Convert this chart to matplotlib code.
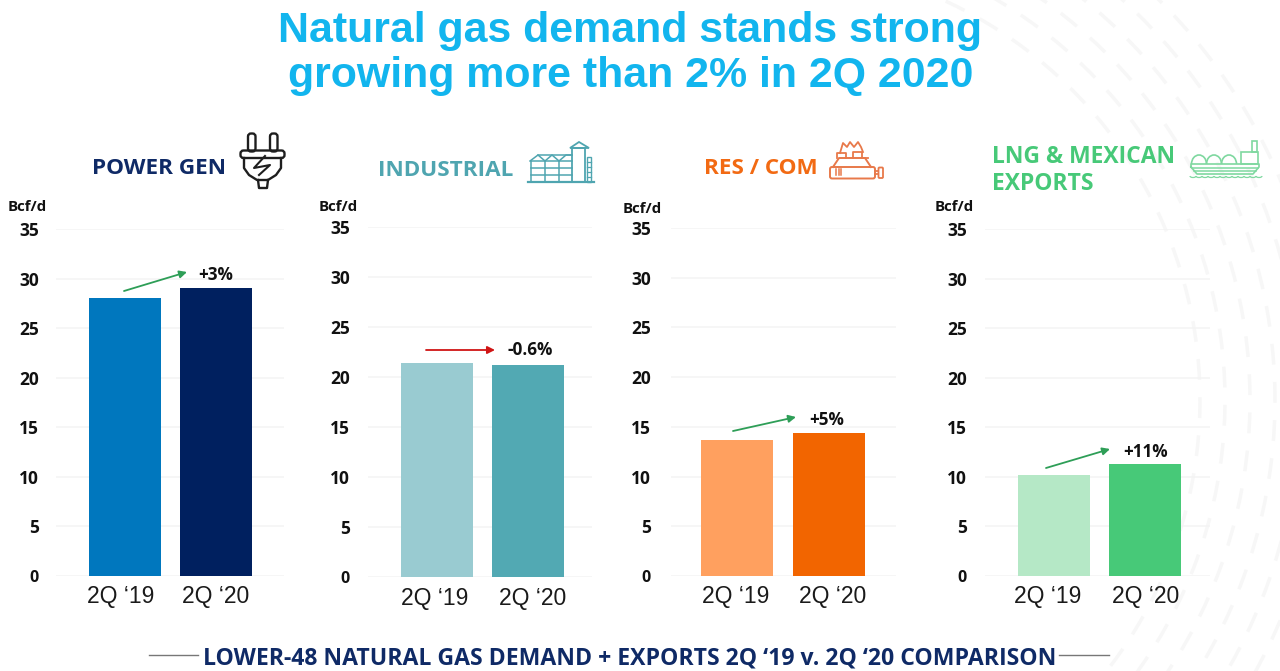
import matplotlib
matplotlib.use("Agg")
import matplotlib.pyplot as plt
from matplotlib.patches import Arc, Rectangle, FancyBboxPatch, Polygon

W, H = 1280, 671
HEAD = "Open Sans"
categories = ["2Q \u201819", "2Q \u201820"]
yticks = [0, 5, 10, 15, 20, 25, 30, 35]
power_gen = [28.05, 29.0]
industrial = [21.4, 21.2]
res_com = [13.7, 14.4]
lng_exports = [10.2, 11.3]
series = [power_gen, industrial, res_com, lng_exports]
bar_colors = [["#0077BE", "#00205F"], ["#99CBD1", "#52A9B3"], ["#FFA05F", "#F26500"], ["#B5E8C6", "#47C978"]]
change_labels = ["+3%", "-0.6%", "+5%", "+11%"]
# axes pixel box: left, right, y at 35, y at 0
boxes = [(56, 284, 229, 576), (368, 592, 227, 577), (671, 896, 228, 576), (985, 1210, 229, 576)]
centers = [(125, 216), (437, 528), (737, 829), (1054, 1145)]
label_y = [597, 598, 597, 597]
label_dx = [(-4, 0), (-2, 5), (-1, 4), (-6, 1)]
tick_x = [39, 350, 651, 967]
unit_xy = [(8, 207), (319, 207), (623, 209), (935, 207)]
arrows = [((124, 291), (187, 272), "#2E9E57"), ((426, 350), (495, 350), "#D01515"),
          ((733, 431), (796, 417), "#2E9E57"), ((1046, 468), (1110, 449), "#2E9E57")]
change_xy = [(216, 275), (530, 350), (827, 420), (1146, 452)]

fig = plt.figure(figsize=(W / 100, H / 100), dpi=100, facecolor="white")

# faint background swirl on the right
bg = fig.add_axes([0, 0, 1, 1], zorder=0)
bg.set_xlim(0, W)
bg.set_ylim(H, 0)
bg.axis("off")
for rad in (440, 465, 490, 515, 540, 565):
    bg.add_patch(Arc((760, 400), 2 * rad, 2 * rad, theta1=-70, theta2=50, color="#F7F7F7", lw=2.5, ls=(0, (6, 5))))

ov = fig.add_axes([0, 0, 1, 1], zorder=5)
ov.set_xlim(0, W)
ov.set_ylim(H, 0)
ov.axis("off")
ov.patch.set_alpha(0)

for i, vals in enumerate(series):
    l, r, yt, y0 = boxes[i]
    c0, c1 = centers[i]
    ax = fig.add_axes([l / W, 1 - y0 / H, (r - l) / W, (y0 - yt) / H], zorder=1)
    step = c1 - c0
    ax.set_xlim((l - c0) / step, (r - c0) / step)
    ax.set_ylim(0, 35)
    ax.bar([0, 1], vals, width=0.79, color=bar_colors[i], zorder=3)
    ax.set_yticks(yticks)
    ax.set_yticklabels([])
    ax.set_xticks([])
    ax.grid(axis="y", color="#F4F4F4", lw=1.1, zorder=0)
    ax.tick_params(length=0)
    for s in ax.spines.values():
        s.set_visible(False)
    ax.patch.set_alpha(0)
    for t in yticks:
        py = y0 - (y0 - yt) * t / 35 + 2
        ov.text(tick_x[i], py, str(t), ha="right", va="center",
                family=HEAD, weight="bold", fontsize=12.5 if t else 11.5, color="#111111")
    ov.text(unit_xy[i][0], unit_xy[i][1], "Bcf/d", ha="left", va="center", family=HEAD, weight="bold",
            fontsize=10.8, color="#111111")
    for j, lab in enumerate(categories):
        ov.text(centers[i][j] + label_dx[i][j], label_y[i], lab, ha="center", va="center",
                family="Liberation Sans", fontsize=16.5, color="#1A1A1A")
    s, e, col = arrows[i]
    ov.annotate("", xy=e, xytext=s, arrowprops=dict(arrowstyle="-|>", color=col, lw=1.3, mutation_scale=11,
                                                    shrinkA=0, shrinkB=0))
    ov.text(change_xy[i][0], change_xy[i][1], change_labels[i], ha="center", va="center", family=HEAD,
            weight="bold", fontsize=12.3, color="#111111")

# title
for line, y in [("Natural gas demand stands strong", 31), ("growing more than 2% in 2Q 2020", 76)]:
    ov.text(630.5, y, line, ha="center", va="center", family="Liberation Sans", weight="bold",
            fontsize=30.9, color="#12B5EE")

# panel headings
ov.text(159.5, 168, "POWER GEN", ha="center", va="center", family=HEAD, weight="bold", fontsize=16.2, color="#0F2A66")
ov.text(446, 171, "INDUSTRIAL", ha="center", va="center", family=HEAD, weight="bold", fontsize=16.2, color="#4FA5B0")
ov.text(760.5, 168, "RES / COM", ha="center", va="center", family=HEAD, weight="bold", fontsize=16.2, color="#F26A13")
ov.text(992, 157, "LNG & MEXICAN", ha="left", va="center", family=HEAD, weight="bold", fontsize=16.5, color="#47C978")
ov.text(992, 184, "EXPORTS", ha="left", va="center", family=HEAD, weight="bold", fontsize=16.5, color="#47C978")

# footer
ov.text(629.5, 658, "LOWER-48 NATURAL GAS DEMAND + EXPORTS 2Q \u201819 v. 2Q \u201820 COMPARISON", ha="center", va="center",
        family=HEAD, weight="bold", fontsize=16.6, color="#0F2A66")
ov.plot([149, 198], [655, 655], color="#777777", lw=1)
ov.plot([1059, 1109], [655, 655], color="#777777", lw=1)

# plug icon
k = "#1E1E1E"
for x in (249.5, 271.5):
    ov.add_patch(FancyBboxPatch((x, 135), 4.5, 15, boxstyle="round,pad=1.5,rounding_size=3", fc="none", ec=k, lw=1.7))
ov.add_patch(FancyBboxPatch((241, 151), 43, 6.5, boxstyle="round,pad=0.5,rounding_size=3", fc="none", ec=k, lw=1.7))
ov.plot([244, 244, 249, 257, 268, 276, 281, 281], [158, 168, 175, 180, 180, 175, 168, 158], color=k, lw=1.7)
ov.plot([258, 259, 267, 268], [180, 188, 188, 180], color=k, lw=1.7)
ov.plot([265, 254, 270, 259], [156, 168, 165, 175], color=k, lw=1.5)

# silo icon
t = "#4FA5B0"
ov.plot([528, 594], [182, 182], color=t, lw=1.6)
for y in (161, 168, 175):
    ov.plot([531, 572], [y, y], color=t, lw=1.1)
for x in (531, 545, 559):
    ov.plot([x, x], [161, 182], color=t, lw=1.1)
ov.plot([530, 538, 545, 552, 559, 566, 572], [161, 155, 161, 155, 161, 155, 155], color=t, lw=1.1)
ov.plot([538, 572], [155, 155], color=t, lw=1.1)
ov.add_patch(Rectangle((572, 148), 13, 34, fc="none", ec=t, lw=1.3))
ov.add_patch(Polygon([[570, 148], [579, 142], [589, 148]], closed=True, fc="none", ec=t, lw=1.3))
ov.add_patch(Rectangle((587, 157), 4, 25, fc="none", ec=t, lw=1.0))
for y in (162, 167, 172, 177):
    ov.plot([587, 591], [y, y], color=t, lw=0.9)

# burner icon
o = "#E8794A"
ov.add_patch(FancyBboxPatch((831, 168), 43, 9.5, boxstyle="round,pad=1,rounding_size=2", fc="none", ec=o, lw=1.4))
ov.plot([875, 878], [171, 171], color=o, lw=1.3)
ov.plot([875, 878], [174, 174], color=o, lw=1.3)
ov.add_patch(FancyBboxPatch((879, 168), 3.5, 9.5, boxstyle="round,pad=0.5,rounding_size=1", fc="none", ec=o, lw=1.3))
ov.plot([833, 839, 865, 871], [167, 158, 158, 167], color=o, lw=1.4)
ov.plot([837, 837, 846, 846], [158, 153, 153, 158], color=o, lw=1.3)
ov.plot([853, 853, 862, 862, 868], [158, 152, 152, 158, 158], color=o, lw=1.3)
ov.plot([840, 843, 847, 850, 854, 858, 861, 863], [153, 143, 147, 142, 147, 142, 147, 152], color=o, lw=1.3)
for x in (836, 838.5, 841):
    ov.plot([x, x], [169, 175], color=o, lw=1.1)

# ship icon
g = "#7FD8A0"
ov.plot([1191, 1197, 1253, 1259, 1259, 1191, 1191], [167, 174, 174, 167, 164, 164, 167], color=g, lw=1.2)
ov.plot([1192, 1258], [168, 168], color=g, lw=1.1)
ov.plot([1194, 1256], [171, 171], color=g, lw=1.1)
for x in (1199, 1214, 1229):
    ov.add_patch(Arc((x, 164), 15, 18, theta1=180, theta2=360, color=g, lw=1.2))
for x in range(1190, 1260, 6):
    ov.add_patch(Arc((x + 3, 176), 6, 3, theta1=0, theta2=180, color=g, lw=0.9))
ov.add_patch(Rectangle((1241, 152), 17, 12, fc="none", ec=g, lw=1.2))
ov.add_patch(Rectangle((1252, 141), 5, 11, fc="none", ec=g, lw=1.2))

fig.savefig("out.png", dpi=100)
